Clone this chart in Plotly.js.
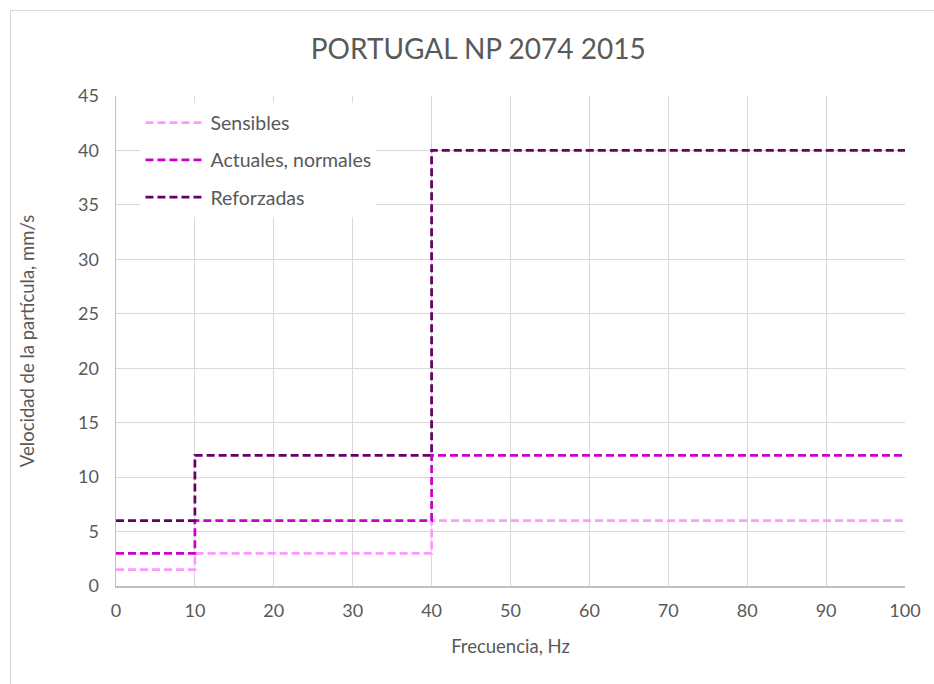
<!DOCTYPE html>
<html>
<head>
<meta charset="utf-8">
<script src="https://cdn.plot.ly/plotly-3.0.1.min.js"></script>
<style>
html,body{margin:0;padding:0;background:#fff;overflow:hidden;}
#frame{position:absolute;left:10px;top:10px;width:960px;height:720px;border:1px solid #d9d9d9;box-sizing:border-box;pointer-events:none;z-index:5;}
#chart{position:absolute;left:0;top:0;width:934px;height:684px;}
</style>
</head>
<body>
<div id="chart"></div>
<div id="frame"></div>
<script>
var frequencies = [0, 10, 40, 100];
var sensibles = [1.5, 3, 6, 6];
var actuales = [3, 6, 12, 12];
var reforzadas = [6, 12, 40, 40];
var seriesNames = ["Sensibles", "Actuales, normales", "Reforzadas"];
var seriesColors = ["#ff99ff", "#cc00cc", "#660066"];
var xTicks = [0, 10, 20, 30, 40, 50, 60, 70, 80, 90, 100];
var yTicks = [0, 5, 10, 15, 20, 25, 30, 35, 40, 45];

var seriesValues = [sensibles, actuales, reforzadas];
var traces = seriesValues.map(function (vals, i) {
  return {
    type: "scatter",
    mode: "lines",
    x: frequencies,
    y: vals,
    name: seriesNames[i],
    legendgroup: "g" + i,
    line: { shape: "hv", color: seriesColors[i], width: 2.75, dash: "8px,4px" },
    hoverinfo: "x+y+name"
  };
});

var gray = "#595959";
var fam = "Lato, 'Noto Sans', sans-serif";
var layout = {
  width: 934,
  height: 684,
  margin: { l: 116, r: 29, t: 96, b: 98 },
  paper_bgcolor: "#ffffff",
  plot_bgcolor: "#ffffff",
  font: { family: fam, color: gray, size: 18 },
  title: {
    text: "PORTUGAL NP 2074 2015",
    font: { size: 28, color: gray, family: fam },
    x: 0.512, xanchor: "center", y: 0.928, yanchor: "middle"
  },
  xaxis: {
    range: [0, 100],
    tickvals: xTicks,
    ticktext: xTicks.map(String),
    showgrid: true, gridcolor: "#d9d9d9", gridwidth: 1,
    showline: true, linecolor: "#bfbfbf", linewidth: 1.5,
    zeroline: false, ticks: "", ticklen: 0,
    ticklabelstandoff: 8,
    tickfont: { size: 18, color: gray },
    title: { text: "Frecuencia, Hz", font: { size: 18.5, color: gray }, standoff: 20 },
    fixedrange: true
  },
  yaxis: {
    range: [0, 45],
    tickvals: yTicks,
    ticktext: yTicks.map(String),
    showgrid: true, gridcolor: "#d9d9d9", gridwidth: 1,
    showline: true, linecolor: "#bfbfbf", linewidth: 1.5,
    zeroline: false, ticks: "", ticklen: 0,
    ticklabelstandoff: 12,
    tickfont: { size: 18, color: gray },
    title: { text: "Velocidad de la partícula, mm/s", font: { size: 18.5, color: gray }, standoff: 38 },
    fixedrange: true
  },
  showlegend: true,
  legend: {
    x: 0.031, y: 0.985, xanchor: "left", yanchor: "top",
    bgcolor: "#ffffff",
    borderwidth: 0,
    font: { size: 19.5, color: gray },
    traceorder: "grouped",
    tracegroupgap: 9,
    itemwidth: 60,
    itemclick: false
  }
};

Plotly.newPlot("chart", traces, layout, { displayModeBar: false, staticPlot: true });
</script>
</body>
</html>
